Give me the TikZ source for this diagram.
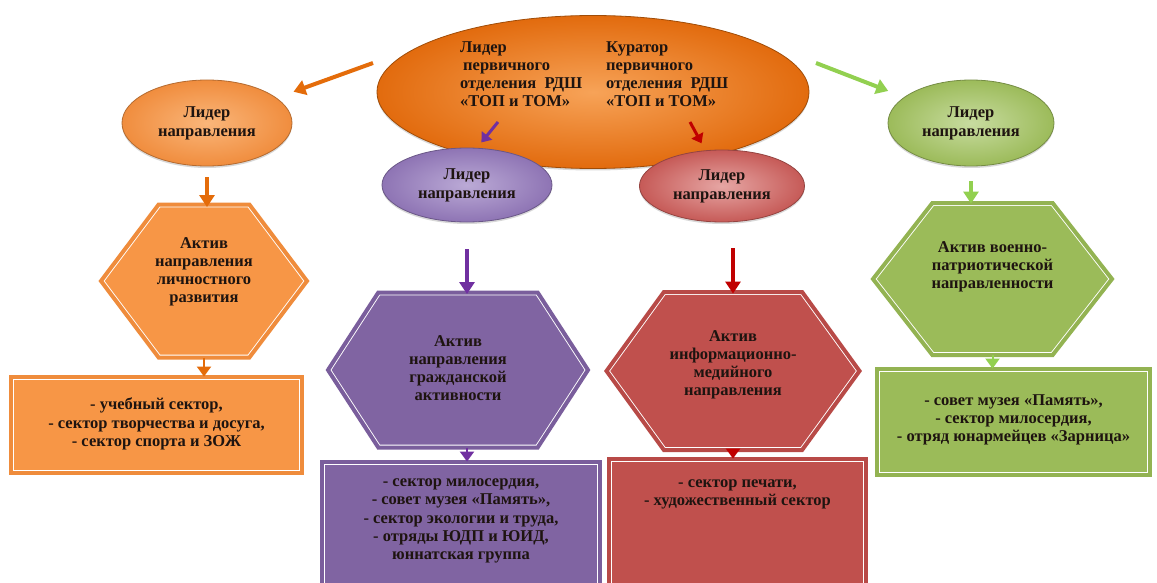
\documentclass[tikz,border=0pt]{standalone}
\usepackage{fontspec}
\setmainfont{Liberation Serif}
\usetikzlibrary{shapes.geometric,shapes.symbols,arrows.meta,shadows}
\definecolor{bigIn}{HTML}{F7A358}
\definecolor{bigOut}{HTML}{E26B0E}
\definecolor{orgIn}{HTML}{FAB67A}
\definecolor{orgOut}{HTML}{F08D3E}
\definecolor{orgF}{HTML}{F79646}
\definecolor{orgB}{HTML}{EF8C3C}
\definecolor{orgA}{HTML}{E46C0A}
\definecolor{purIn}{HTML}{BBAAD6}
\definecolor{purOut}{HTML}{8E74B4}
\definecolor{purF}{HTML}{8064A2}
\definecolor{purB}{HTML}{7A5E9C}
\definecolor{purA}{HTML}{7030A0}
\definecolor{redIn}{HTML}{E6A6A4}
\definecolor{redOut}{HTML}{C65A57}
\definecolor{redF}{HTML}{C0504D}
\definecolor{redB}{HTML}{B84A47}
\definecolor{redA}{HTML}{C00000}
\definecolor{grnIn}{HTML}{C8DCA0}
\definecolor{grnOut}{HTML}{9CBB5A}
\definecolor{grnF}{HTML}{9BBB59}
\definecolor{grnB}{HTML}{93B352}
\definecolor{grnA}{HTML}{92D050}
\definecolor{ink}{HTML}{1E1410}
\tikzset{
  txt/.style={font=\bfseries\fontsize{16.5}{18.2}\selectfont, text=ink, align=center, inner sep=0pt},
  hextxt/.style={txt, font=\bfseries\fontsize{16.5}{18}\selectfont},
  lead/.style={ellipse, line width=0.8pt, inner sep=0pt, txt, font=\bfseries\fontsize{16.5}{19}\selectfont,
               drop shadow={shadow xshift=0pt, shadow yshift=-2pt, opacity=0.3}},
  hexbox/.style={signal, signal to=west and east, draw=white, line width=0.9pt, double distance=4pt, inner sep=0pt},
  listbox/.style={rectangle, draw=white, line width=0.9pt, double distance=4pt, inner sep=0pt},
  bigarrow/.style={line width=4pt, -{Triangle[length=12pt,width=15pt]}},
  smallarrow/.style={line width=3pt, -{Triangle[length=9pt,width=13pt]}},
  stubarrow/.style={line width=2pt, -{Triangle[length=10pt,width=14pt]}}
}
\begin{document}
\begin{tikzpicture}[x=1pt,y=-1pt]
\clip (0,0) rectangle (1157,583);
\fill[white] (0,0) rectangle (1157,583);

% top ellipse
\node[ellipse, draw=orgA!70!black, line width=0.8pt, inner color=bigIn, outer color=bigOut,
      drop shadow={shadow xshift=0pt, shadow yshift=-2pt, opacity=0.3},
      minimum width=432pt, minimum height=153pt] (top) at (593,92) {};
\node[txt, align=left, anchor=north west, font=\bfseries\fontsize{16.5}{18}\selectfont] (topL) at (460,41)
  {Лидер\\\hspace{3pt}первичного\\отделения\ \ РДШ\\«ТОП и ТОМ»};
\node[txt, align=left, anchor=north west, font=\bfseries\fontsize{16.5}{18}\selectfont] (topR) at (606,41)
  {Куратор\\первичного\\отделения\ \ РДШ\\«ТОП и ТОМ»};

% leaders
\node[lead, draw=orgOut!75!black, inner color=orgIn, outer color=orgOut,
      minimum width=170pt, minimum height=86pt] (lo) at (207,123) {Лидер\\направления};
\node[lead, draw=purOut!75!black, inner color=purIn, outer color=purOut,
      minimum width=170pt, minimum height=74pt] (pe) at (467,185) {Лидер\\направления};
\node[lead, draw=redOut!75!black, inner color=redIn, outer color=redOut,
      minimum width=165pt, minimum height=72pt] (re) at (722,186) {Лидер\\направления};
\node[lead, draw=grnOut!75!black, inner color=grnIn, outer color=grnOut,
      minimum width=166pt, minimum height=86pt] (ri) at (971,123) {Лидер\\направления};

% hexagons
\node[hexbox, fill=orgF, double=orgB, signal pointer angle=106,
      minimum width=206pt, minimum height=153pt] (hexO) at (204,281) {};
\node[hextxt] (hexOt) at (204,272) {Актив\\направления\\личностного\\развития};
\node[hexbox, fill=purF, double=purB, signal pointer angle=114,
      minimum width=260pt, minimum height=155pt] (hexP) at (458,370) {};
\node[hextxt] (hexPt) at (458,368) {Актив\\направления\\гражданской\\активности};
\node[hexbox, fill=redF, double=redB, signal pointer angle=108,
      minimum width=253pt, minimum height=158pt] (hexR) at (733,371) {};
\node[hextxt] (hexRt) at (733,365) {Актив\\информационно-\\медийного\\направления};
\node[hexbox, fill=grnF, double=grnB, signal pointer angle=104,
      minimum width=239pt, minimum height=152pt] (hexG) at (992.5,279) {};
\node[hextxt] (hexGt) at (992.5,267) {Актив военно-\\патриотической\\направленности};

% list boxes
\node[listbox, fill=orgF, double=orgB, minimum width=291pt, minimum height=96pt] (recO) at (156.5,425) {};
\node[txt] (recOt) at (156.5,424) {- учебный сектор,\\- сектор творчества и досуга,\\- сектор спорта и ЗОЖ};
\node[listbox, fill=purF, double=purB, minimum width=278pt, minimum height=140pt] (recP) at (461,532) {};
\node[txt] (recPt) at (461,521) {- сектор милосердия,\\- совет музея «Память»,\\- сектор экологии и труда,\\- отряды ЮДП и ЮИД,\\юннатская группа};
\node[listbox, fill=redF, double=redB, minimum width=257pt, minimum height=142pt] (recR) at (737.5,530) {};
\node[txt] (recRt) at (737.5,494) {- сектор печати,\\- художественный сектор};
\node[listbox, fill=grnF, double=grnB, minimum width=273pt, minimum height=106pt] (recG) at (1013.5,422) {};
\node[txt] (recGt) at (1013.5,420) {- совет музея «Память»,\\- сектор милосердия,\\- отряд юнармейцев «Зарница»};

% connectors
\coordinate (sO) at (373,63);
\coordinate (sG) at (816,63);
\coordinate (sP) at (498,122);
\coordinate (sR) at (690,122);
\draw[bigarrow, draw=orgA, shorten >=18pt] (sO) -- (lo);
\draw[bigarrow, draw=grnA, shorten >=17pt] (sG) -- (ri);
\draw[smallarrow, draw=purA, shorten >=7pt] (sP) -- (pe.75);
\draw[smallarrow, draw=redA, shorten >=8pt] (sR) -- (re.115);

\draw[bigarrow, draw=orgA, shorten <=11pt, shorten >=-3pt] (lo.south) -- (lo.south |- hexO.north);
\draw[bigarrow, draw=purA, shorten <=27pt, shorten >=-2pt] (pe.south) -- (pe.south |- hexP.north);
\draw[bigarrow, draw=redA, shorten <=26pt, shorten >=-2pt] (hexR.north |- re.south) -- (hexR.north);
\draw[bigarrow, draw=grnA, shorten <=15pt, shorten >=-1pt] (ri.south) -- (ri.south |- hexG.north);

\draw[stubarrow, draw=orgA] (hexO.south) -- (recO.north -| hexO.south);
\draw[stubarrow, draw=purA] (hexP.south -| pe.south) -- (recP.north -| pe.south);
\draw[stubarrow, draw=redA] (hexR.south) -- (recR.north -| hexR.south);
\draw[stubarrow, draw=grnA] (hexG.south) -- (recG.north -| hexG.south);
\end{tikzpicture}
\end{document}
